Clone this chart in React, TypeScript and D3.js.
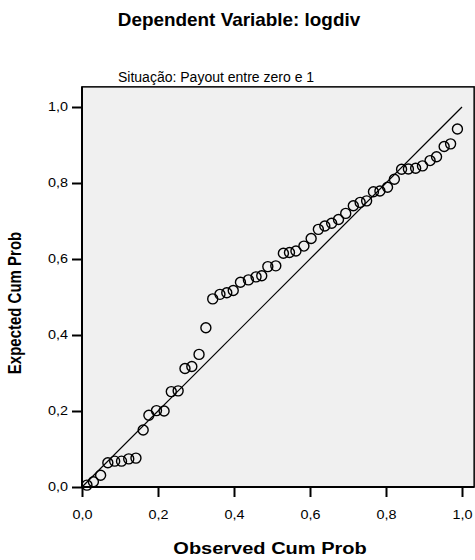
import React, { useEffect, useRef } from 'react';
import * as d3 from 'd3';

// observed cumulative probability (x) and expected cumulative probability (y)
const observed = [
  0.013, 0.030, 0.049, 0.068, 0.086, 0.104, 0.123, 0.142, 0.161, 0.176,
  0.196, 0.216, 0.235, 0.253, 0.271, 0.289, 0.308, 0.326, 0.344, 0.363,
  0.381, 0.398, 0.417, 0.438, 0.458, 0.473, 0.489, 0.510, 0.530, 0.546,
  0.563, 0.584, 0.603, 0.622, 0.639, 0.657, 0.675, 0.694, 0.714, 0.732,
  0.749, 0.767, 0.784, 0.804, 0.822, 0.841, 0.859, 0.878, 0.896, 0.916,
  0.933, 0.953, 0.970, 0.988,
];
const expected = [
  0.005, 0.014, 0.031, 0.064, 0.068, 0.068, 0.074, 0.076, 0.150, 0.189,
  0.201, 0.200, 0.251, 0.253, 0.312, 0.317, 0.349, 0.419, 0.495, 0.507,
  0.511, 0.517, 0.539, 0.545, 0.553, 0.556, 0.580, 0.582, 0.615, 0.617,
  0.621, 0.634, 0.654, 0.678, 0.687, 0.694, 0.704, 0.720, 0.740, 0.749,
  0.753, 0.777, 0.779, 0.789, 0.810, 0.836, 0.837, 0.839, 0.845, 0.859,
  0.869, 0.896, 0.903, 0.942,
];
const ticks = [0, 0.2, 0.4, 0.6, 0.8, 1.0];

const title = 'Dependent Variable: logdiv';
const subtitle = 'Situação: Payout entre zero e 1';
const xTitle = 'Observed Cum Prob';
const yTitle = 'Expected Cum Prob';

const font = 'Arial, "Liberation Sans", sans-serif';

export default function App() {
  const svgRef = useRef<SVGSVGElement>(null);

  useEffect(() => {
    const svg = d3.select(svgRef.current);
    svg.selectAll('*').remove();

    const x = d3.scaleLinear().domain([0, 1]).range([82, 462]);
    const y = d3.scaleLinear().domain([0, 1]).range([487, 107]);
    const xEnd = x(1.032);
    const yEnd = y(1.053);

    const fmt = (d: number) => d3.format('.1f')(d).replace('.', ',');
    // the original picture is stretched sideways a little
    const sx = 1.2;

    svg.append('rect')
      .attr('x', x(0)).attr('y', yEnd)
      .attr('width', xEnd - x(0)).attr('height', y(0) - yEnd)
      .attr('fill', '#f0f0f0')
      .attr('stroke', '#000')
      .attr('stroke-width', 1.5);

    // reference line
    svg.append('line')
      .attr('x1', x(0)).attr('y1', y(0))
      .attr('x2', x(1)).attr('y2', y(1))
      .attr('stroke', '#000')
      .attr('stroke-width', 1.2);

    svg.append('g')
      .selectAll('circle')
      .data(observed.map((o, i) => [o, expected[i]]))
      .join('circle')
      .attr('cx', d => x(d[0]))
      .attr('cy', d => y(d[1]))
      .attr('r', 5)
      .attr('fill', 'none')
      .attr('stroke', '#000')
      .attr('stroke-width', 1.4);

    const yAxis = svg.append('g')
      .attr('transform', `translate(${x(0)},0)`)
      .call(d3.axisLeft(y).tickValues(ticks).tickSize(10).tickPadding(4).tickFormat(fmt as any));
    const xAxis = svg.append('g')
      .attr('transform', `translate(0,${y(0)})`)
      .call(d3.axisBottom(x).tickValues(ticks).tickSize(10).tickPadding(13).tickFormat(fmt as any));

    [yAxis, xAxis].forEach(g => {
      g.select('.domain').remove();
      g.selectAll('line').attr('stroke', '#000').attr('stroke-width', 2);
      g.selectAll('text')
        .attr('font-family', font).attr('font-size', 12).attr('fill', '#000')
        .attr('x', function () { return +d3.select(this).attr('x') / sx; })
        .attr('transform', `scale(${sx},1)`);
    });

    // axis lines drawn heavier
    svg.append('line')
      .attr('x1', x(0)).attr('y1', yEnd).attr('x2', x(0)).attr('y2', y(0))
      .attr('stroke', '#000').attr('stroke-width', 2);
    svg.append('line')
      .attr('x1', x(0)).attr('y1', y(0)).attr('x2', xEnd).attr('y2', y(0))
      .attr('stroke', '#000').attr('stroke-width', 2);

    svg.append('text')
      .attr('transform', `translate(239,26) scale(1.05,1)`)
      .attr('text-anchor', 'middle')
      .attr('font-family', font).attr('font-weight', 'bold').attr('font-size', 18)
      .text(title);

    svg.append('text')
      .attr('transform', `translate(118,82)`)
      .attr('font-family', font).attr('font-size', 14)
      .text(subtitle);

    svg.append('text')
      .attr('transform', `translate(270,554) scale(1.25,1)`)
      .attr('text-anchor', 'middle')
      .attr('font-family', font).attr('font-weight', 'bold').attr('font-size', 16)
      .text(xTitle);

    svg.append('text')
      .attr('transform', `translate(21,303) scale(${sx},1) rotate(-90)`)
      .attr('text-anchor', 'middle')
      .attr('font-family', font).attr('font-weight', 'bold').attr('font-size', 15)
      .text(yTitle);
  }, []);

  return (
    <div style={{ position: 'absolute', left: 0, top: 0 }}>
      <svg ref={svgRef} width={475} height={560}></svg>
    </div>
  );
}
